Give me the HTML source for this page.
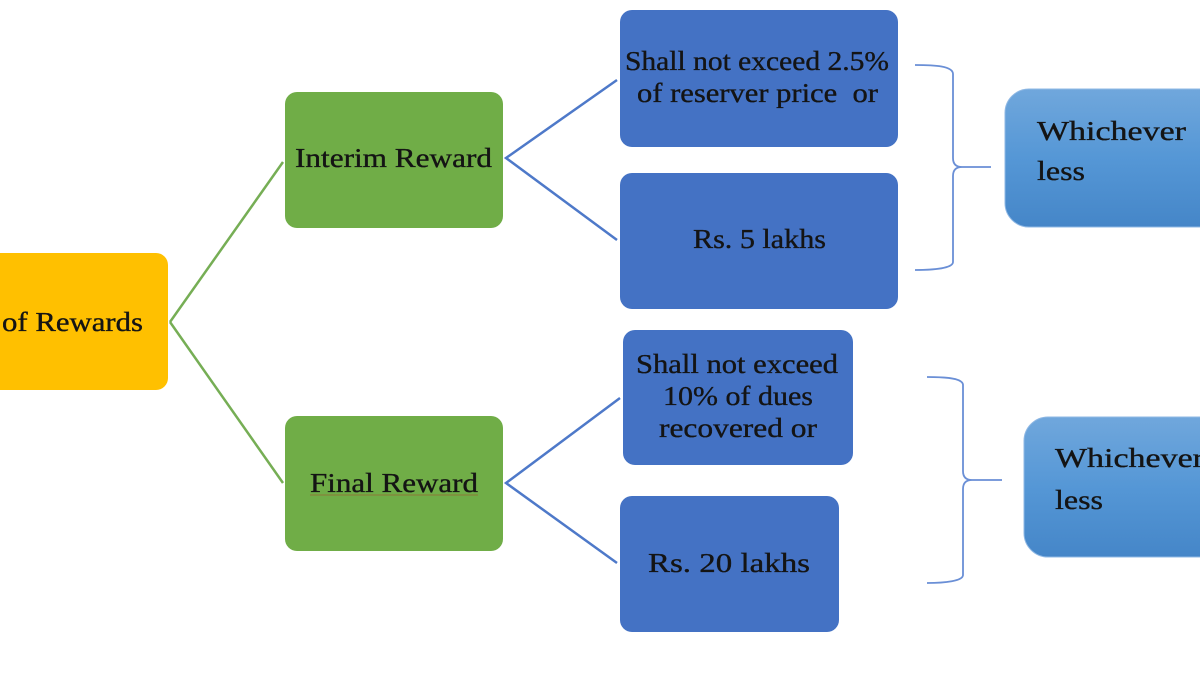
<!DOCTYPE html>
<html>
<head>
<meta charset="utf-8">
<style>
  html,body{margin:0;padding:0;background:#fff;}
  body{width:1200px;height:675px;overflow:hidden;}
  svg{display:block;}
  text{font-family:"Liberation Serif","DejaVu Serif",serif;fill:#141414;font-size:27px;stroke:#141414;stroke-width:0.35;}
</style>
</head>
<body>
<svg width="1200" height="675" viewBox="0 0 1200 675" xmlns="http://www.w3.org/2000/svg">
  <defs>
    <linearGradient id="g1" x1="0" y1="0" x2="0" y2="1">
      <stop offset="0" stop-color="#70a7dc"/>
      <stop offset="0.5" stop-color="#5597d6"/>
      <stop offset="1" stop-color="#4586c8"/>
    </linearGradient>
  </defs>

  <!-- green connectors -->
  <g stroke="#76ae55" stroke-width="2.5" fill="none">
    <line x1="170" y1="322" x2="283" y2="162"/>
    <line x1="170" y1="322" x2="283" y2="483"/>
  </g>
  <!-- blue connectors -->
  <g stroke="#4e79c9" stroke-width="2.5" fill="none">
    <polyline points="617,80 506,158 617,240"/>
    <polyline points="620,398 506,483 617,563"/>
  </g>

  <!-- root -->
  <rect x="-20" y="253" width="188" height="137" rx="12" fill="#FFC000"/>
  <text x="2" y="331" textLength="141" lengthAdjust="spacingAndGlyphs">of Rewards</text>

  <!-- green -->
  <rect x="285" y="92" width="218" height="136" rx="12" fill="#70AD47"/>
  <text x="295" y="167" textLength="197" lengthAdjust="spacingAndGlyphs">Interim Reward</text>
  <rect x="285" y="416" width="218" height="135" rx="12" fill="#70AD47"/>
  <text x="310" y="492" textLength="168" lengthAdjust="spacingAndGlyphs">Final Reward</text>
  <line x1="310" y1="495" x2="478" y2="495" stroke="#a0522d" stroke-width="1" opacity="0.6"/>

  <!-- blue boxes -->
  <rect x="620" y="10" width="278" height="137" rx="12" fill="#4472C4"/>
  <text x="625" y="70" textLength="264" lengthAdjust="spacingAndGlyphs">Shall not exceed 2.5%</text>
  <text x="637" y="102" textLength="241" lengthAdjust="spacingAndGlyphs" xml:space="preserve">of reserver price  or</text>

  <rect x="620" y="173" width="278" height="136" rx="12" fill="#4472C4"/>
  <text x="693" y="248" textLength="133" lengthAdjust="spacingAndGlyphs">Rs. 5 lakhs</text>

  <rect x="623" y="330" width="230" height="135" rx="12" fill="#4472C4"/>
  <text x="636" y="373" textLength="202" lengthAdjust="spacingAndGlyphs">Shall not exceed</text>
  <text x="663" y="405" textLength="150" lengthAdjust="spacingAndGlyphs">10% of dues</text>
  <text x="659" y="437" textLength="158" lengthAdjust="spacingAndGlyphs">recovered or</text>

  <rect x="620" y="496" width="219" height="136" rx="12" fill="#4472C4"/>
  <text x="648" y="572" textLength="162" lengthAdjust="spacingAndGlyphs">Rs. 20 lakhs</text>

  <!-- brackets -->
  <g stroke="#6a8fd6" stroke-width="1.8" fill="none">
    <path d="M915,65 C935,65 953,66 953,74 L953,158 Q953,167 962,167 L991,167 M962,167 Q953,167 953,176 L953,262 C953,268 935,270 915,270"/>
    <path d="M927,377 C945,377 963,378 963,385 L963,471 Q963,480 972,480 L1002,480 M972,480 Q963,480 963,489 L963,575 C963,581 945,583 927,583"/>
  </g>

  <!-- whichever boxes -->
  <rect x="1005" y="89" width="240" height="138" rx="24" fill="url(#g1)" stroke="#8fb8e4" stroke-width="1"/>
  <text x="1037" y="140" textLength="149" lengthAdjust="spacingAndGlyphs">Whichever</text>
  <text x="1037" y="180" textLength="48" lengthAdjust="spacingAndGlyphs">less</text>

  <rect x="1024" y="417" width="230" height="140" rx="24" fill="url(#g1)" stroke="#8fb8e4" stroke-width="1"/>
  <text x="1055" y="467" textLength="149" lengthAdjust="spacingAndGlyphs">Whichever</text>
  <text x="1055" y="509" textLength="48" lengthAdjust="spacingAndGlyphs">less</text>
</svg>
</body>
</html>
